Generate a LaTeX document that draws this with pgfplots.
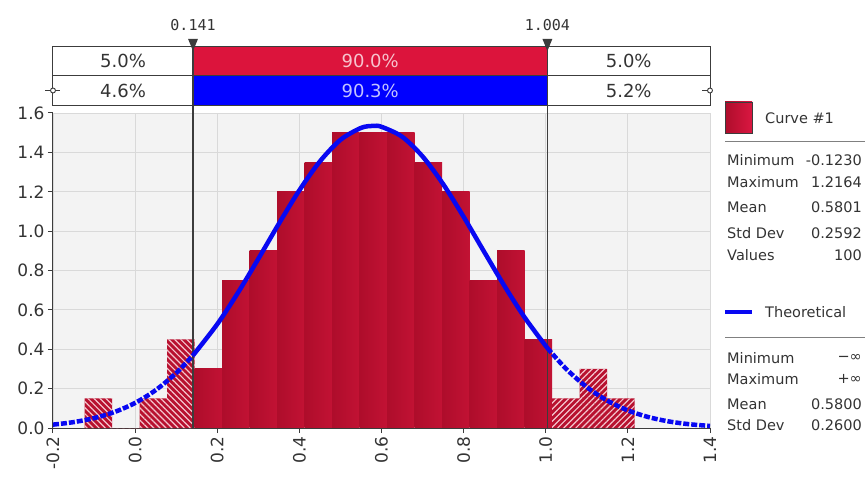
\documentclass[border=0pt]{standalone}
\usepackage{fontspec}
\setmainfont{DejaVu Sans}
\newfontfamily\markfont{DejaVu Sans Mono}
\usepackage{pgfplots}
\usepackage{pgfplotstable}
\pgfplotsset{compat=1.18}
\usetikzlibrary{patterns.meta}

\definecolor{plotbg}{HTML}{F3F3F3}
\definecolor{gridc}{HTML}{D9D9D9}
\definecolor{axisc}{HTML}{3C3C3C}
\definecolor{txt}{HTML}{333333}
\definecolor{barA}{HTML}{AE0D2B}
\definecolor{barB}{HTML}{DA1741}
\definecolor{barC}{HTML}{C21234}
\definecolor{hatchbase}{HTML}{B8112F}
\definecolor{hatchline}{HTML}{F4C6CE}
\definecolor{bandred}{HTML}{DC143C}
\definecolor{bandblue}{HTML}{0000FF}
\definecolor{bandredtxt}{HTML}{F7C3CE}
\definecolor{bandbluetxt}{HTML}{C4C4FF}
\definecolor{curveblue}{HTML}{0808F2}

% histogram tails: bin left edge, density (last row closes the interval)
\pgfplotstableread{
x h
-0.1230 0.15
-0.0560 0.00
0.0109 0.15
0.0779 0.45
0.1449 0.00
}\lefttail
\pgfplotstableread{
x h
1.0155 0.15
1.0824 0.30
1.1494 0.15
1.2164 0.00
}\righttail

% theoretical density, split at the 5% / 95% markers
\pgfplotstableread{
x y
-0.20 0.0171
-0.15 0.0298
-0.10 0.0502
-0.05 0.0815
0.00 0.1274
0.05 0.1922
0.10 0.2792
0.141 0.3689
}\curveleft
\pgfplotstableread{
x y
0.141 0.3689
0.20 0.5274
0.25 0.6857
0.30 0.8592
0.35 1.0376
0.40 1.2075
0.45 1.3541
0.50 1.4635
0.55 1.5242
0.58 1.5344
0.60 1.5299
0.65 1.4798
0.70 1.3794
0.75 1.2391
0.80 1.0726
0.85 0.8949
0.90 0.7195
0.95 0.5574
1.004 0.4059
}\curvemid
\pgfplotstableread{
x y
1.004 0.4059
1.05 0.2995
1.10 0.2077
1.15 0.1388
1.20 0.0894
1.25 0.0555
1.30 0.0332
1.35 0.0191
1.40 0.0106
}\curveright

% one shaded bar: left edge, right edge, density
\newcommand{\solidbin}[3]{%
  \addplot[ybar interval, draw=none, left color=barA, middle color=barB, right color=barC]
    coordinates {(#1,#3) (#2,0)};}

\newcommand{\legfont}{\fontsize{14.5bp}{17bp}\selectfont}

\begin{document}
\begin{tikzpicture}
\begin{axis}[
  scale only axis,
  width=657bp, height=315bp,
  xmin=-0.2, xmax=1.4, ymin=0, ymax=1.6,
  axis lines=left,
  axis line style={-, draw=axisc, line width=1bp},
  tick align=outside,
  major tick length=5bp,
  tick style={axisc, line width=1bp},
  xtick={-0.2,0,0.2,0.4,0.6,0.8,1.0,1.2,1.4},
  ytick={0,0.2,0.4,0.6,0.8,1.0,1.2,1.4,1.6},
  grid=major,
  major grid style={gridc, line width=0.8bp},
  axis background/.style={fill=plotbg},
  tick label style={font=\fontsize{17bp}{19bp}\selectfont, text=txt},
  xticklabel style={rotate=90, anchor=east},
  /pgf/number format/.cd, fixed, fixed zerofill, precision=1, assume math mode=true,
  /pgfplots/.cd,
  clip=false,
]
% histogram bars
\addplot[ybar interval, draw=none, fill=hatchbase,
  postaction={pattern={Lines[angle=-45, distance=4.3bp, line width=1.2bp]}, pattern color=hatchline}]
  table[x=x, y=h] {\lefttail};
\solidbin{0.1449}{0.2119}{0.30}
\solidbin{0.2119}{0.2788}{0.75}
\solidbin{0.2788}{0.3458}{0.90}
\solidbin{0.3458}{0.4128}{1.20}
\solidbin{0.4128}{0.4797}{1.35}
\solidbin{0.4797}{0.5467}{1.50}
\solidbin{0.5467}{0.6137}{1.50}
\solidbin{0.6137}{0.6806}{1.50}
\solidbin{0.6806}{0.7476}{1.35}
\solidbin{0.7476}{0.8146}{1.20}
\solidbin{0.8146}{0.8815}{0.75}
\solidbin{0.8815}{0.9485}{0.90}
\solidbin{0.9485}{1.0155}{0.45}
\addplot[ybar interval, draw=none, fill=hatchbase,
  postaction={pattern={Lines[angle=45, distance=4.3bp, line width=1.2bp]}, pattern color=hatchline}]
  table[x=x, y=h] {\righttail};

% percentile band above the plot
\fill[bandred] (0.141,1.7930) rectangle (1.004,1.9403);
\fill[bandblue] (0.141,1.6356) rectangle (1.004,1.7930);
\draw[axisc, line width=1bp] (-0.2,1.6356) rectangle (1.4,1.9403);
\draw[axisc, line width=1bp] (-0.2,1.7930) -- (1.4,1.7930);
\node[text=txt, font=\fontsize{18bp}{20bp}\selectfont] at (-0.0295,1.8667) {5.0\%};
\node[text=bandredtxt, font=\fontsize{18bp}{20bp}\selectfont] at (0.5725,1.8667) {90.0\%};
\node[text=txt, font=\fontsize{18bp}{20bp}\selectfont] at (1.202,1.8667) {5.0\%};
\node[text=txt, font=\fontsize{18bp}{20bp}\selectfont] at (-0.0295,1.7143) {4.6\%};
\node[text=bandbluetxt, font=\fontsize{18bp}{20bp}\selectfont] at (0.5725,1.7143) {90.3\%};
\node[text=txt, font=\fontsize{18bp}{20bp}\selectfont] at (1.202,1.7143) {5.2\%};

% row-two handles at both ends
\draw[axisc, line width=0.9bp] (-0.2185,1.7143) -- (-0.1835,1.7143);
\draw[axisc, line width=0.9bp, fill=white] (-0.2,1.7143) circle[radius=2.5bp];
\draw[axisc, line width=0.9bp] (1.3815,1.7143) -- (1.4,1.7143);
\draw[axisc, line width=0.9bp, fill=white] (1.4,1.7143) circle[radius=2.5bp];

% percentile markers
\addplot[axisc, line width=1.2bp] coordinates {(0.141,0) (0.141,1.9403)};
\addplot[axisc, line width=1.2bp] coordinates {(1.004,0) (1.004,1.9403)};
\fill[axisc] (0.129,1.9759) -- (0.153,1.9759) -- (0.141,1.9149) -- cycle;
\fill[axisc] (0.992,1.9759) -- (1.016,1.9759) -- (1.004,1.9149) -- cycle;
\node[text=txt, font=\markfont\fontsize{15bp}{17bp}\selectfont] at (0.141,2.047) {0.141};
\node[text=txt, font=\markfont\fontsize{15bp}{17bp}\selectfont] at (1.004,2.047) {1.004};

% theoretical curve
\addplot[curveblue, line width=4.5bp, smooth] table[x=x, y=y] {\curvemid};
\addplot[curveblue, line width=4.5bp, smooth, dash pattern=on 6bp off 2bp] table[x=x, y=y] {\curveleft};
\addplot[curveblue, line width=4.5bp, smooth, dash pattern=on 6bp off 2bp] table[x=x, y=y] {\curveright};
\end{axis}

% legend panel
\begin{scope}[every node/.style={inner sep=0pt, text=txt, font=\legfont}]
\shade[left color=barA, right color=barB] (672bp,295bp) rectangle (699bp,326bp);
\draw[axisc, line width=0.8bp] (672bp,295bp) rectangle (699bp,326bp);
\node[anchor=west] at (712bp,310bp) {Curve \#1};
\draw[gray, line width=1bp] (672bp,286bp) -- (812bp,286bp);
\node[anchor=west] at (674bp,268bp) {Minimum};
\node[anchor=east] at (809bp,268bp) {-0.1230};
\node[anchor=west] at (674bp,246bp) {Maximum};
\node[anchor=east] at (809bp,246bp) {1.2164};
\node[anchor=west] at (674bp,221bp) {Mean};
\node[anchor=east] at (809bp,221bp) {0.5801};
\node[anchor=west] at (674bp,195bp) {Std Dev};
\node[anchor=east] at (809bp,195bp) {0.2592};
\node[anchor=west] at (674bp,173bp) {Values};
\node[anchor=east] at (809bp,173bp) {100};

\draw[curveblue, line width=4bp] (672bp,116bp) -- (699bp,116bp);
\node[anchor=west] at (712bp,116bp) {Theoretical};
\draw[gray, line width=1bp] (672bp,90bp) -- (812bp,90bp);
\node[anchor=west] at (674bp,70bp) {Minimum};
\node[anchor=east] at (809bp,70bp) {−∞};
\node[anchor=west] at (674bp,49bp) {Maximum};
\node[anchor=east] at (809bp,49bp) {+∞};
\node[anchor=west] at (674bp,24bp) {Mean};
\node[anchor=east] at (809bp,24bp) {0.5800};
\node[anchor=west] at (674bp,3bp) {Std Dev};
\node[anchor=east] at (809bp,3bp) {0.2600};
\end{scope}

\pgfresetboundingbox
\path (-53bp,-59bp) rectangle (812bp,428bp);
\end{tikzpicture}
\end{document}
